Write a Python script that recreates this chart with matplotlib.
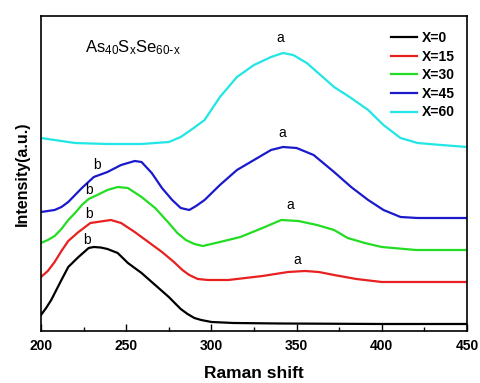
import matplotlib
matplotlib.use('Agg')
import matplotlib.pyplot as plt
from matplotlib.ticker import MultipleLocator

plt.rcParams['font.family'] = ['Liberation Sans', 'DejaVu Sans']
plt.rcParams['mathtext.default'] = 'regular'

# Raman spectra (offset stacked, arbitrary units)
x0 = [200, 203, 206, 209, 212, 216, 222, 228, 231, 235, 239, 245, 251, 259, 267, 275, 282, 286, 290, 294, 300, 313, 340, 400, 450]
y0 = [16, 23, 31, 41, 51, 64, 74, 83, 84, 83.5, 82, 78, 68, 58, 46, 34, 22, 17, 13, 11, 9, 8, 7.5, 7, 7]

x15 = [200, 204, 208, 212, 216, 222, 229, 235, 241, 247, 255, 263, 271, 278, 283, 287, 292, 298, 310, 330, 345, 355, 363, 372, 385, 400, 420, 450]
y15 = [54, 60, 69, 80, 90, 99, 108, 109.5, 111, 108, 99, 89, 79, 69, 61, 56, 52, 51, 51, 55, 59, 60, 59, 56, 52, 49, 49, 49]

x30 = [200, 204, 208, 212, 216, 220, 224, 228, 233, 239, 245, 251, 259, 267, 275, 280, 285, 290, 295, 305, 317, 330, 341, 351, 362, 372, 380, 390, 400, 420, 450]
y30 = [88, 91, 95, 102, 111, 118, 126, 132, 136, 141, 144, 143, 134, 123, 108, 98, 91, 87, 85, 89, 94, 103, 111, 110, 106, 101, 93, 88, 84, 81, 81]

x45 = [200, 204, 208, 212, 216, 220, 224, 231, 239, 247, 255, 259, 265, 271, 277, 282, 287, 291, 296, 305, 315, 325, 335, 342, 350, 360, 372, 382, 392, 401, 411, 421, 450]
y45 = [119, 120, 121, 124, 129, 136, 143, 154, 159, 166, 170, 169, 158, 143, 131, 123, 121, 125, 131, 146, 161, 171, 181, 184, 183, 176, 159, 144, 131, 121, 114, 113, 113]

x60 = [200, 220, 239, 259, 275, 282, 288, 296, 305, 315, 325, 335, 342, 348, 356, 364, 372, 382, 392, 401, 411, 421, 435, 450]
y60 = [193, 188, 187, 187, 189, 194, 201, 211, 234, 254, 266, 274, 278, 276, 268, 256, 244, 233, 221, 206, 193, 188, 186, 184]

labels = ['X=0', 'X=15', 'X=30', 'X=45', 'X=60']
colors = ['black', '#e82020', '#22dd22', '#1a1acc', '#22e5e5']

# peak labels
a_x = [350.6, 346.5, 341.8, 340.6]
a_y = [71, 126, 198, 293]
b_x = [227, 228, 228, 233]
b_y = [91, 117, 141, 166]

fig = plt.figure(figsize=(4.8, 3.83), dpi=100)
ax = fig.add_axes([0.0854, 0.1358, 0.8875, 0.8224])

for xs, ys, lab, c in zip([x0, x15, x30, x45, x60], [y0, y15, y30, y45, y60], labels, colors):
    ax.plot(xs, ys, color=c, lw=1.6, label=lab, solid_joinstyle='round')

for xx, yy in zip(a_x, a_y):
    ax.text(xx, yy, 'a', ha='center', va='center', fontsize=10)
for xx, yy in zip(b_x, b_y):
    ax.text(xx, yy, 'b', ha='center', va='center', fontsize=10)

ax.text(226, 283, r'As$_{40}$S$_{x}$Se$_{60\text{-}x}$', fontsize=12, va='center')

ax.set_xlim(200, 450)
ax.set_ylim(0, 315)
ax.xaxis.set_major_locator(MultipleLocator(50))
ax.xaxis.set_minor_locator(MultipleLocator(25))
ax.tick_params(axis='x', which='major', direction='in', length=5, width=1, labelsize=10, pad=6)
ax.tick_params(axis='x', which='minor', direction='in', length=3, width=1)
ax.set_yticks([])
for lbl in ax.get_xticklabels():
    lbl.set_fontweight('bold')
for s in ax.spines.values():
    s.set_linewidth(1.2)

ax.set_xlabel('Raman shift', fontsize=12.5, fontweight='bold', labelpad=9)
ax.set_ylabel('Intensity(a.u.)', fontsize=11.5, fontweight='bold', labelpad=8)

leg = ax.legend(loc='upper right', frameon=False, prop={'weight': 'bold', 'size': 10},
                handlelength=1.9, handletextpad=0.3, labelspacing=0.33,
                bbox_to_anchor=(1.0, 0.992))

fig.savefig('out.png', dpi=100)
